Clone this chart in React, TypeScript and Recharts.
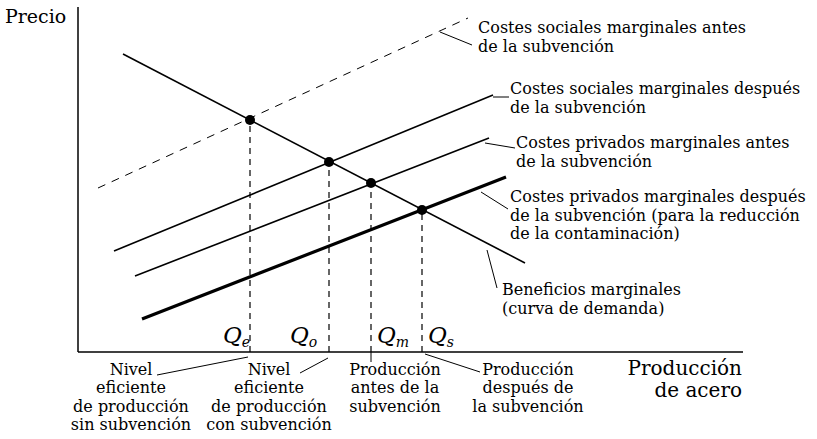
import React from "react";
import {
  ComposedChart,
  Line,
  Scatter,
  XAxis,
  YAxis,
  ReferenceLine,
  Customized,
} from "recharts";

// curve end points (x = quantity, y = price, arbitrary units)
const demand = [
  { x: 45, y: 298 },
  { x: 447, y: 89 },
];
const mscBefore = [
  { x: 20, y: 164 },
  { x: 390, y: 334 },
];
const mscAfter = [
  { x: 36, y: 101 },
  { x: 415, y: 257 },
];
const mpcBefore = [
  { x: 57, y: 76 },
  { x: 411, y: 214 },
];
const mpcAfter = [
  { x: 64, y: 33 },
  { x: 428, y: 175 },
];

// intersections
const equilibria = [
  { x: 172, y: 232 },
  { x: 251, y: 190 },
  { x: 293, y: 169 },
  { x: 344, y: 142 },
];
const qSubs = ["e", "o", "m", "s"];

// leader lines from labels to the curves / points
const leaders = [
  [{ x: 362, y: 320 }, { x: 394, y: 307 }],
  [{ x: 415, y: 255 }, { x: 431, y: 255 }],
  [{ x: 407, y: 209 }, { x: 437, y: 204 }],
  [{ x: 403, y: 160 }, { x: 430, y: 143 }],
  [{ x: 409, y: 102 }, { x: 419, y: 64 }],
  [{ x: 79, y: -23 }, { x: 170, y: -5 }],
  [{ x: 222, y: -21 }, { x: 250, y: -6 }],
  [{ x: 293, y: 0 }, { x: 293, y: -10 }],
  [{ x: 347, y: -2 }, { x: 402, y: -20 }],
];

const curveLabels = [
  { x: 478, y: 33, lines: ["Costes sociales marginales antes", "de la subvención"] },
  { x: 510, y: 94, lines: ["Costes sociales marginales después", "de la subvención"] },
  { x: 516, y: 148, lines: ["Costes privados marginales antes", "de la subvención"] },
  {
    x: 510,
    y: 202,
    lines: [
      "Costes privados marginales después",
      "de la subvención (para la reducción",
      "de la contaminación)",
    ],
  },
  { x: 502, y: 295, lines: ["Beneficios marginales", "(curva de demanda)"] },
];

const bottomLabels = [
  { x: 131, lines: ["Nivel", "eficiente", "de producción", "sin subvención"] },
  { x: 269, lines: ["Nivel", "eficiente", "de producción", "con subvención"] },
  { x: 395, lines: ["Producción", "antes de la", "subvención"] },
  { x: 528, lines: ["Producción", "después de", "la subvención"] },
];
const qLabelX = [223, 290, 377, 428];

const FONT = "'DejaVu Serif', serif";

const Annotations = () => (
  <g fontFamily={FONT} fill="#000">
    <text x={5} y={23} fontSize={19}>
      Precio
    </text>
    <text x={742} y={375} fontSize={20} textAnchor="end">
      Producción
    </text>
    <text x={742} y={397} fontSize={20} textAnchor="end">
      de acero
    </text>
    {curveLabels.map((l, i) => (
      <text key={i} x={l.x} y={l.y} fontSize={16}>
        {l.lines.map((t, j) => (
          <tspan key={j} x={l.x} dy={j === 0 ? 0 : 18.5}>
            {t}
          </tspan>
        ))}
      </text>
    ))}
    {bottomLabels.map((l, i) => (
      <text key={i} x={l.x} y={375} fontSize={16} textAnchor="middle">
        {l.lines.map((t, j) => (
          <tspan key={j} x={l.x} dy={j === 0 ? 0 : 18.4}>
            {t}
          </tspan>
        ))}
      </text>
    ))}
    {qSubs.map((s, i) => (
      <text key={s} x={qLabelX[i]} y={343} fontSize={23} fontStyle="italic">
        Q
        <tspan fontSize={14} dy={4}>
          {s}
        </tspan>
      </text>
    ))}
  </g>
);

export default function App() {
  return (
    <div style={{ position: "absolute", left: 0, top: 0, background: "#fff" }}>
      <ComposedChart
        width={817}
        height={439}
        margin={{ top: 7, right: 74, bottom: 87, left: 78 }}
      >
        <XAxis type="number" dataKey="x" domain={[0, 665]} hide allowDataOverflow />
        <YAxis type="number" dataKey="y" domain={[0, 345]} hide allowDataOverflow />

        <ReferenceLine x={0} stroke="#000" strokeWidth={1.5} />
        <ReferenceLine y={0} stroke="#000" strokeWidth={1.5} />

        {equilibria.map((p, i) => (
          <ReferenceLine
            key={i}
            segment={[
              { x: p.x, y: 0 },
              { x: p.x, y: p.y },
            ]}
            stroke="#000"
            strokeWidth={1.2}
            strokeDasharray="6 5"
          />
        ))}
        {leaders.map((seg, i) => (
          <ReferenceLine
            key={"l" + i}
            segment={seg}
            stroke="#000"
            strokeWidth={1}
            ifOverflow="visible"
          />
        ))}

        <Line
          data={mscBefore}
          dataKey="y"
          stroke="#000"
          strokeWidth={1}
          strokeDasharray="8 7"
          dot={false}
          isAnimationActive={false}
        />
        <Line
          data={mscAfter}
          dataKey="y"
          stroke="#000"
          strokeWidth={1.6}
          dot={false}
          isAnimationActive={false}
        />
        <Line
          data={mpcBefore}
          dataKey="y"
          stroke="#000"
          strokeWidth={1.6}
          dot={false}
          isAnimationActive={false}
        />
        <Line
          data={mpcAfter}
          dataKey="y"
          stroke="#000"
          strokeWidth={3.2}
          dot={false}
          isAnimationActive={false}
        />
        <Line
          data={demand}
          dataKey="y"
          stroke="#000"
          strokeWidth={1.6}
          dot={false}
          isAnimationActive={false}
        />
        <Scatter
          data={equilibria}
          dataKey="y"
          isAnimationActive={false}
          shape={(p: any) => <circle cx={p.cx} cy={p.cy} r={5} fill="#000" />}
        />
        <Customized component={Annotations} />
      </ComposedChart>
    </div>
  );
}
